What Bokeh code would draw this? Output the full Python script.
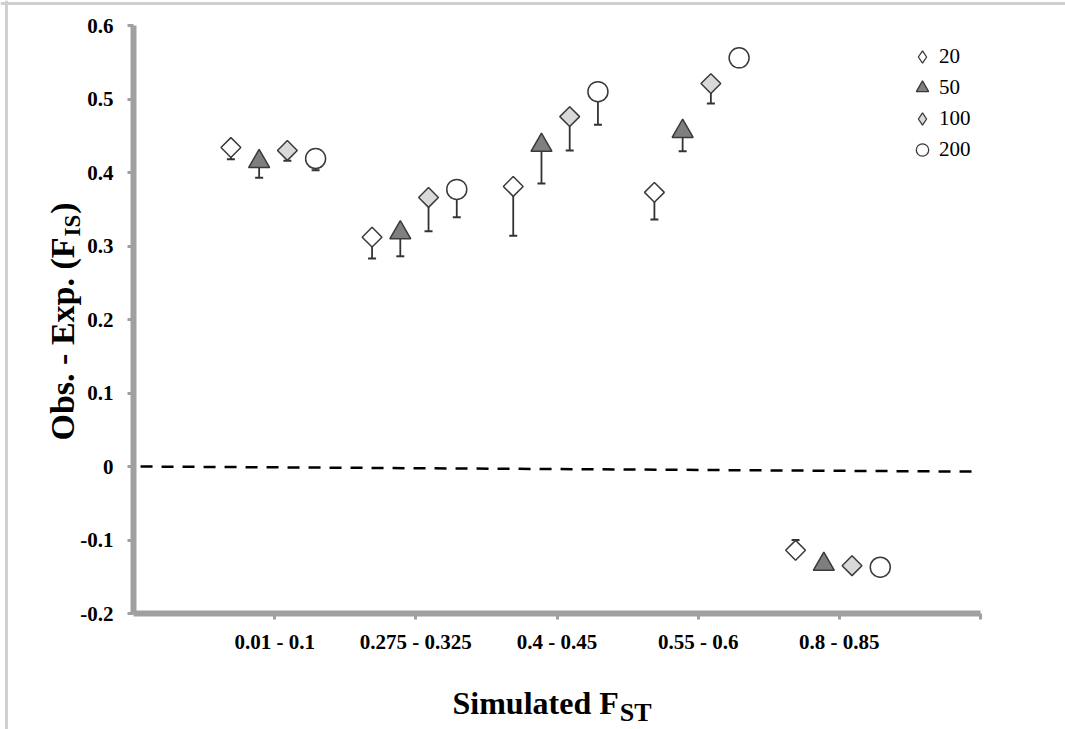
import math
from bokeh.plotting import figure
from bokeh.models import FixedTicker, Label, ColumnDataSource, Legend, LegendItem, Span
from bokeh.embed import file_html
from bokeh.resources import INLINE

# ---------------- data ----------------
categories = ["0.01 - 0.1", "0.275 - 0.325", "0.4 - 0.45", "0.55 - 0.6", "0.8 - 0.85"]
series_names = ["20", "50", "100", "200"]

fis_20 = [0.434, 0.312, 0.381, 0.373, -0.114]
fis_50 = [0.415, 0.318, 0.437, 0.456, -0.133]
fis_100 = [0.430, 0.366, 0.476, 0.521, -0.135]
fis_200 = [0.419, 0.377, 0.510, 0.556, -0.137]

# one-sided error bar ends (None = no visible bar)
err_20 = [0.418, 0.283, 0.314, 0.336, -0.100]
err_50 = [0.393, 0.286, 0.385, 0.429, None]
err_100 = [0.416, 0.320, 0.430, 0.494, None]
err_200 = [0.403, 0.339, 0.465, None, None]

ref_x = [0.05, 5.96]
ref_y = [0.0, -0.007]

y_ticks = [-0.2, -0.1, 0, 0.1, 0.2, 0.3, 0.4, 0.5, 0.6]
y_tick_labels = ["-0.2", "-0.1", "0", "0.1", "0.2", "0.3", "0.4", "0.5", "0.6"]

# ---------------- layout ----------------
# the plot frame covers the whole canvas; the axes box spans px 133..980 (x 0..6)
# and py 25..613 (y 0.6..-0.2)
W, H = 1065, 729
XS = 6 / 847.0
YS = 0.8 / 588.0

def X(px):
    return (px - 133) * XS

def Y(py):
    return -0.2 + (613 - py) * YS

p = figure(width=W, height=H, x_range=(X(0), X(W)), y_range=(Y(H), Y(0)),
           output_backend="svg", toolbar_location=None, min_border=0)
p.title.visible = False
p.outline_line_color = None
p.xgrid.visible = False
p.ygrid.visible = False
p.background_fill_color = "white"
p.border_fill_color = "white"

# light picture border (left and top)
p.add_layout(Span(location=X(6), dimension="height", line_color="#d0d0d0", line_width=3))
p.add_layout(Span(location=Y(3), dimension="width", line_color="#d0d0d0", line_width=3))

FONT = "Liberation Serif"
AX = "#a0a0a0"

# x axis
p.xaxis.ticker = FixedTicker(ticks=[1, 2, 3, 4, 5, 6])
p.xaxis.major_label_overrides = {i + 1: c for i, c in enumerate(categories)} | {6: ""}
p.xaxis.fixed_location = -0.2
p.xaxis.bounds = (0, 6)
# y axis
p.yaxis.ticker = FixedTicker(ticks=y_ticks)
p.yaxis.major_label_overrides = {v: s for v, s in zip(y_ticks, y_tick_labels)}
p.yaxis.fixed_location = 0
p.yaxis.bounds = (-0.2, 0.6)

for ax in (p.xaxis, p.yaxis):
    ax.axis_line_color = AX
    ax.axis_line_width = 6
    ax.major_tick_line_color = AX
    ax.major_tick_line_width = 3
    ax.major_tick_out = 6
    ax.major_tick_in = 0
    ax.minor_tick_line_color = None
    ax.major_label_text_font = FONT
    ax.major_label_text_font_style = "bold"
    ax.major_label_text_font_size = "21px"
    ax.major_label_text_color = "black"
p.xaxis.major_label_standoff = 10
p.yaxis.major_label_standoff = 14

# reference dashed line
p.line(ref_x, ref_y, line_color="black", line_width=2.5, line_dash="12 9")

offsets = [-0.31, -0.11, 0.09, 0.29]
values = [fis_20, fis_50, fis_100, fis_200]
errs = [err_20, err_50, err_100, err_200]
styles = [
    dict(marker="square", angle=math.pi / 4, size=14, fill_color="white", leg="diamond"),
    dict(marker="triangle", angle=0.0, size=21, fill_color="#7f7f7f", leg="triangle"),
    dict(marker="square", angle=math.pi / 4, size=14, fill_color="#d9d9d9", leg="diamond"),
    dict(marker="circle", angle=0.0, size=20, fill_color="white", leg="circle"),
]
EDGE = "#3a3a3a"

# error bars
for vals, ers, off in zip(values, errs, offsets):
    xs, y0, y1 = [], [], []
    for i, (v, e) in enumerate(zip(vals, ers)):
        if e is None:
            continue
        xs.append(i + 1 + off)
        y0.append(v)
        y1.append(e)
    p.segment(x0=xs, y0=y0, x1=xs, y1=y1, line_color="#333333", line_width=1.8)
    p.scatter(xs, y1, marker="dash", size=8, line_color="#333333", line_width=2)

# markers
items = []
for name, vals, off, st in zip(series_names, values, offsets, styles):
    xs = [i + 1 + off for i in range(len(vals))]
    src = ColumnDataSource(dict(x=xs, y=vals))
    # key renderer for the legend (tiny, hidden beneath the real markers)
    rleg = p.scatter("x", "y", source=src, marker=st["leg"], size=1,
                     fill_color=st["fill_color"], line_color=EDGE, line_width=1.3)
    p.scatter("x", "y", source=src, marker=st["marker"], angle=st["angle"], size=st["size"],
              fill_color=st["fill_color"], line_color=EDGE, line_width=1.5)
    items.append(LegendItem(label=name, renderers=[rleg]))

lg = Legend(items=items, location=(905, H - 164.5),
            padding=0, margin=0, spacing=0,
            glyph_width=34, glyph_height=31, label_standoff=-3,
            label_text_font=FONT, label_text_font_size="21px", label_text_color="black",
            border_line_color=None, background_fill_alpha=0)
p.add_layout(lg)

# ---------------- axis titles (manual, with subscripts) ----------------
TW = {"S": 556, "i": 278, "m": 833, "u": 556, "l": 278, "a": 500, "t": 333, "e": 444,
      "d": 556, " ": 250, "F": 611, "O": 778, "b": 556, "s": 389, ".": 250, "-": 333,
      "E": 667, "x": 500, "p": 556, "(": 333, ")": 333, "I": 389, "T": 667}

def tw(s, size):
    return sum(TW.get(c, 500) for c in s) * size / 1000.0

def lab(text, px, py, size, angle=0.0):
    p.add_layout(Label(x=X(px), y=Y(py), text=text, angle=angle,
                       text_font=FONT, text_font_style="bold", text_font_size=f"{size}px",
                       text_color="black", text_align="left", text_baseline="alphabetic"))

# x title: Simulated F_ST
xt_main = "Simulated F"
x0, base = 452, 702
lab(xt_main, x0, base, 32)
lab("ST", x0 + tw(xt_main, 32) + 1, base + 10, 26)

# y title: Obs. - Exp. (F_IS)
yt_main = "Obs. - Exp. (F"
bx, by = 62, 440
lab(yt_main, bx, by, 34, math.pi / 2)
sy = by - tw(yt_main, 34) - 1
lab("IS", bx + 10, sy, 23, math.pi / 2)
lab(")", bx, sy - tw("IS", 23) - 1, 34, math.pi / 2)

open("out.html", "w").write(file_html(p, INLINE))
